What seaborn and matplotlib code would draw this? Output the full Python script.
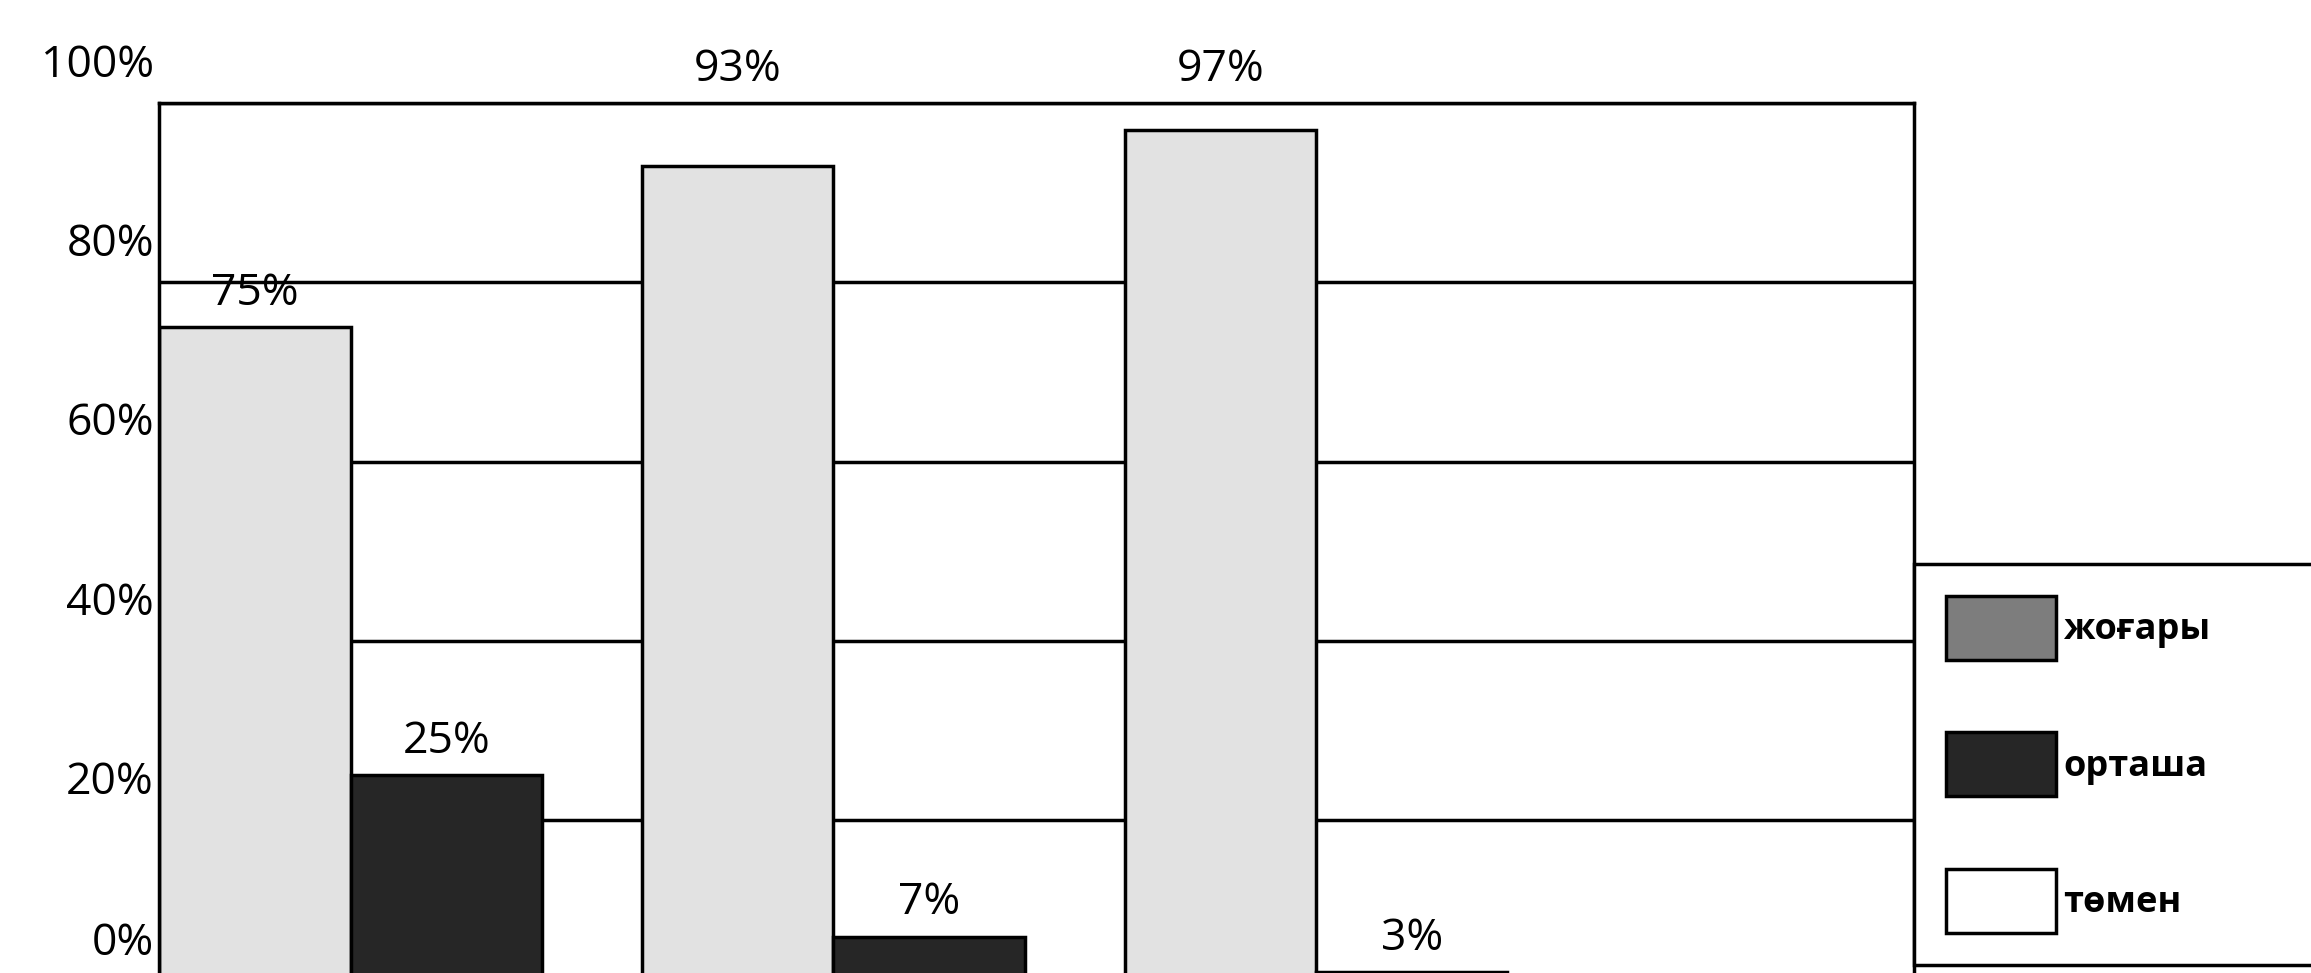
import matplotlib
matplotlib.use('Agg')
import matplotlib.pyplot as plt
import matplotlib.transforms as mtransforms
import seaborn as sns
import pandas as pd

# chart values
groups = ['1', '2', '3']
levels = ['жоғары', 'орташа', 'төмен']
high = [75, 93, 97]
medium = [25, 7, 3]
low = [0, 0, 0]
y_ticks = [0, 20, 40, 60, 80, 100]
tick_labels = [f'{t}%' for t in y_ticks]

df = pd.DataFrame({
    'group': groups * 3,
    'level': [levels[0]] * 3 + [levels[1]] * 3 + [levels[2]] * 3,
    'value': high + medium + low,
})

sns.set_theme(style='white')
plt.rcParams['font.family'] = ['Open Sans', 'DejaVu Sans']
plt.rcParams['text.color'] = 'black'
plt.rcParams['ytick.color'] = 'black'

fig = plt.figure(figsize=(23.11, 9.73), dpi=100)
ax = fig.add_axes([0.069, -0.027, 0.759, 0.921])

palette = {'жоғары': '#e2e2e2', 'орташа': '#262626', 'төмен': '#ffffff'}
sns.barplot(data=df, x='group', y='value', hue='level', hue_order=levels, order=groups,
            palette=palette, width=1.19, saturation=1, edgecolor='black', linewidth=2.5,
            ax=ax)

ax.set_ylim(0, 100)
ax.set_xlim(-0.595, 3.04)
ax.set_yticks(y_ticks)
ax.set_yticklabels(tick_labels, fontsize=32, color='black')
ax.tick_params(axis='y', length=0, pad=4)
ax.tick_params(axis='x', length=0, labelbottom=False)
ax.set_xlabel('')
ax.set_ylabel('')
ax.yaxis.grid(True, color='black', linewidth=2.5)
ax.set_axisbelow(True)
for spine in ax.spines.values():
    spine.set_color('black')
    spine.set_linewidth(2.5)
ax.spines['bottom'].set_visible(False)

# labels sit a bit above their grid lines in the original
for t, lab in zip(y_ticks, ax.get_yticklabels()):
    shift = 44 if t == 0 else 31
    offset = mtransforms.ScaledTranslation(0, shift / 72, fig.dpi_scale_trans)
    lab.set_transform(lab.get_transform() + offset)

for cont, lev, vals in zip(ax.containers, levels, [high, medium, low]):
    if lev == 'төмен':
        continue
    anns = ax.bar_label(cont, fmt='{:g}%', fontsize=32, padding=8, color='black')
    for a, v in zip(anns, vals):
        if v > 88:
            a.xy = (a.xy[0], 100)

handles, labels = ax.get_legend_handles_labels()
ax.get_legend().remove()
leg = fig.legend(handles, labels, loc='lower left',
                 bbox_to_anchor=(0.828, 0.008, 0.2, 0.427), mode='expand',
                 frameon=True, fancybox=False, edgecolor='black', framealpha=1,
                 prop={'weight': 'bold', 'size': 26, 'family': ['Open Sans', 'DejaVu Sans']},
                 handlelength=3.05, handleheight=2.35, handletextpad=0.2,
                 labelspacing=2.0, borderpad=0.9, borderaxespad=0)
leg.get_frame().set_linewidth(2.5)
leg.legend_handles[0].set_facecolor('#7d7d7d')

fig.savefig('out.png', dpi=100)
